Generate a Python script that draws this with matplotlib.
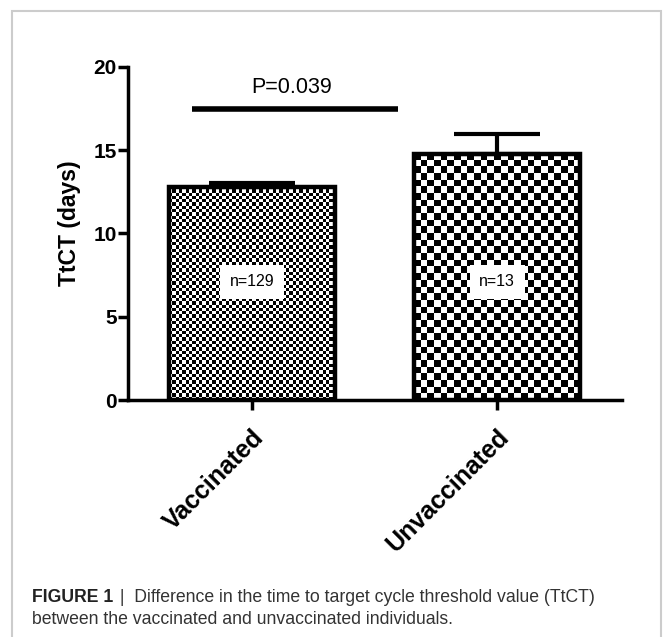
import matplotlib
matplotlib.use("Agg")
import matplotlib.pyplot as plt
import numpy as np
from matplotlib.patches import Rectangle

plt.rcParams['font.family'] = ['Liberation Sans', 'DejaVu Sans']

# data
groups = ["Vaccinated", "Unvaccinated"]
means = [12.8, 14.8]
sem_up = [0.25, 1.2]
n_labels = ["n=129", "n=13"]
cell_px = [3.3, 6.6]          # checker cell size of each bar fill
p_text = "P=0.039"
sig_y = 17.5
sig_x = [-0.245, 0.596]

fig = plt.figure(figsize=(6.63, 6.37), dpi=100)
ax = fig.add_axes([128/663, 1 - 400/637, (622 - 128)/663, (400 - 67)/637])

x = np.arange(len(groups))
ax.set_xlim(-0.506, 1.51)
ax.set_ylim(0, 20)

bars = ax.bar(x, means, width=0.68, facecolor='none', edgecolor='black',
              linewidth=3.2, zorder=3)

# checkerboard fill, clipped to each bar
for b, c in zip(bars, cell_px):
    x0, y0 = b.get_x(), b.get_y()
    w, h = b.get_width(), b.get_height()
    p0 = ax.transData.transform((x0, y0))
    p1 = ax.transData.transform((x0 + w, y0 + h))
    nx = int(round((p1[0] - p0[0]) / c))
    ny = int(round((p1[1] - p0[1]) / c))
    board = (np.add.outer(np.arange(ny), np.arange(nx)) % 2).astype(float)
    im = ax.imshow(board, cmap='gray', extent=(x0, x0 + w, y0, y0 + h),
                   interpolation='nearest', aspect='auto', zorder=2,
                   vmin=0, vmax=1)
    im.set_clip_path(b)

ax.set_xlim(-0.506, 1.51)
ax.set_ylim(0, 20)

ax.errorbar(x, means, yerr=[np.zeros(len(means)), sem_up], fmt='none',
            ecolor='black', elinewidth=3, capsize=31, capthick=3, zorder=4)

for xi, lab in zip(x, n_labels):
    ax.text(xi, 7.1, lab, ha='center', va='center', fontsize=11.5, zorder=5,
            bbox=dict(facecolor='white', edgecolor='none',
                      boxstyle='square,pad=0.6'))

ax.plot(sig_x, [sig_y, sig_y], color='black', linewidth=4, solid_capstyle='butt',
        clip_on=False)
ax.text(0.163, 18.75, p_text, ha='center', va='center', fontsize=15.5)

for s in ['top', 'right']:
    ax.spines[s].set_visible(False)
for s in ['left', 'bottom']:
    ax.spines[s].set_linewidth(2.5)

ax.set_yticks([0, 5, 10, 15, 20])
ax.set_xticks(x)
ax.set_xticklabels(groups, rotation=45, ha='right', va='top',
                   rotation_mode='anchor', fontsize=18, fontweight='bold')
ax.tick_params(axis='both', width=2.5, length=7, labelsize=15)
ax.tick_params(axis='y', pad=1)
ax.tick_params(axis='x', pad=11, labelsize=18)
for t in ax.get_yticklabels():
    t.set_fontweight('bold')
ax.set_ylabel("TtCT (days)", fontsize=16.5, fontweight='bold')
ax.yaxis.set_label_coords(-0.095, 0.53)

# outer frame of the figure panel
fig.patches.append(Rectangle((12/663, -0.05), (661 - 12)/663, 1.05 - 11/637,
                             transform=fig.transFigure, fill=False,
                             edgecolor='#cccccc', linewidth=1.5))

# caption
renderer = fig.canvas.get_renderer()
t1 = fig.text(32/663, 1 - 597/637, "FIGURE 1", fontsize=12.7, fontweight='bold',
              color='#222222', va='center')
bb = t1.get_window_extent(renderer)
fig.text((bb.x1 + 2)/663, 1 - 597/637,
         " |  Difference in the time to target cycle threshold value (TtCT)",
         fontsize=12.7, color='#333333', va='center')
fig.text(32/663, 1 - 619/637,
         "between the vaccinated and unvaccinated individuals.",
         fontsize=12.7, color='#333333', va='center')

fig.savefig("out.png", dpi=100)
